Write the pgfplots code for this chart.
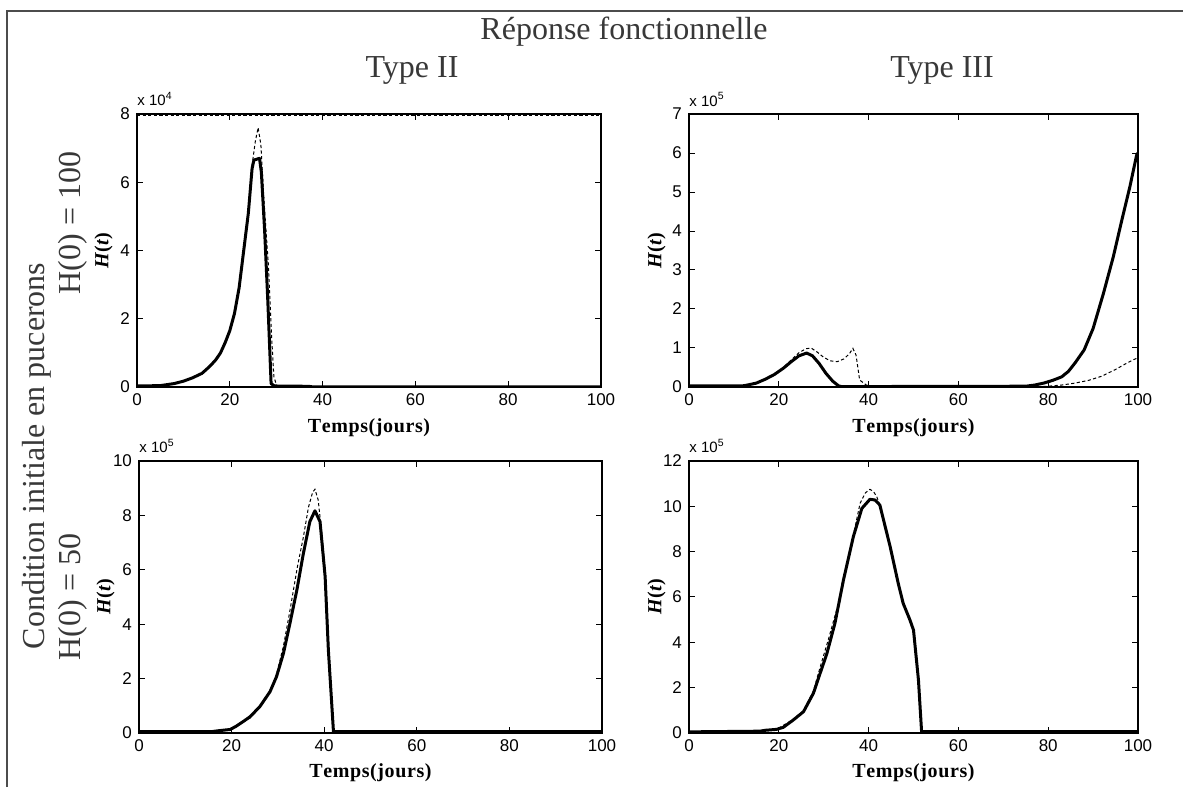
\documentclass[border=0pt]{standalone}
\usepackage{fontspec}
\setmainfont{Liberation Serif}
\newfontfamily\sansf{Liberation Sans}
\usepackage{pgfplots}
\pgfplotsset{compat=1.18}
\pgfplotsset{
  mystyle/.style={
    scale only axis,
    anchor=south west,
    clip mode=individual,
    xmin=0, xmax=100, xtick={0,20,40,60,80,100},
    axis line style={line width=0.6pt},
    tick style={line width=0.5pt, black},
    major tick length=3pt,
    tick align=inside,
    tick label style={font=\sansf\fontsize{8.5}{10}\selectfont},
    /pgf/number format/assume math mode=true,
    scaled ticks=false,
    xlabel={\fontsize{10}{12}\selectfont\bfseries T\kern0.3pt e\kern0.3pt m\kern0.3pt p\kern0.3pt s\kern0.3pt (\kern0.3pt j\kern0.3pt o\kern0.3pt u\kern0.3pt r\kern0.3pt s\kern0.3pt )},
    xlabel style={at={(axis description cs:0.5,-0.165)}, anchor=base},
    ylabel={\fontsize{10}{12}\selectfont\bfseries\itshape H\/\upshape(\itshape t\/\upshape)},
    ylabel style={at={(axis description cs:-0.072,0.5)}, anchor=center},
  },
  sol/.style={black, line width=1.5pt, line join=round},
  dsh/.style={black, line width=0.5pt, dash pattern=on 1.6pt off 1.2pt},
}
\begin{document}
\begin{tikzpicture}
\path[use as bounding box] (0,0) rectangle (591.5pt,393.5pt);
\draw[black!70, line width=0.8pt] (3.5pt,0) -- (3.5pt,388pt) -- (591.5pt,388pt);

\begin{scope}[font=\fontsize{16}{19}\selectfont, text=black!78]
\node[anchor=base] at (312pt,373.5pt) {Réponse fonctionnelle};
\node[anchor=base] at (206pt,354.5pt) {Type II};
\node[anchor=base] at (471pt,354.5pt) {Type III};
\node[anchor=base, rotate=90] at (22pt,165.5pt) {Condition initiale en pucerons};
\node[anchor=base, rotate=90] at (40pt,282pt) {H(0) = 100};
\node[anchor=base, rotate=90] at (40pt,95pt) {H(0) = 50};
\end{scope}

% Top-left: Type II, H(0)=100
\begin{axis}[mystyle, at={(68.5pt,200pt)}, width=232pt, height=136.5pt,
  ymin=0, ymax=8, ytick={0,2,4,6,8}]
\addplot[dsh] coordinates {(0,0.03) (5,0.04) (6,0.06) (8,0.1) (10,0.17) (12,0.27) (14,0.4) (15,0.52) (16,0.65) (17,0.8) (18,1.0) (19,1.3) (20,1.65) (21,2.15) (22,2.9) (23,4.0) (24,5.1) (24.8,6.5) (25.5,7.2) (26.1,7.6) (26.7,7.1) (27.3,5.6) (28.3,3.6) (29,1.5) (29.5,0.3) (30.2,0) (100,0)};
\addplot[dsh] coordinates {(0,7.97) (100,7.97)};
\addplot[sol] coordinates {(0,0.03) (5,0.04) (6,0.06) (8,0.1) (10,0.17) (12,0.27) (14,0.4) (15,0.52) (16,0.65) (17,0.8) (18,1.0) (19,1.3) (20,1.65) (21,2.15) (22,2.9) (23,4.0) (24,5.1) (24.8,6.4) (25.2,6.65) (26.4,6.7) (26.8,6.3) (27.5,4.6) (28.2,2.5) (28.9,0.1) (29.6,0.03) (37,0.02) (38,0) (100,0)};
\node[anchor=base west, font=\sansf\fontsize{7.5}{9}\selectfont, inner sep=0pt] at (rel axis cs:0,1) [yshift=4pt] {x 10\textsuperscript{4}};
\end{axis}

% Top-right: Type III, H(0)=100
\begin{axis}[mystyle, at={(344.5pt,200pt)}, width=224.5pt, height=136.5pt,
  ymin=0, ymax=7, ytick={0,1,2,3,4,5,6,7}]
\addplot[dsh] coordinates {(0,0.02) (12,0.03) (15,0.1) (19,0.32) (21,0.5) (23,0.72) (24.5,0.88) (26,0.98) (27.2,1.0) (28.5,0.9) (30,0.76) (31.5,0.67) (33,0.65) (34.5,0.72) (35.7,0.85) (36.5,0.99) (37.2,0.82) (38,0.18) (39.5,0.05) (41,0.01) (77,0) (80,0.02) (83,0.05) (86,0.1) (89,0.17) (92,0.28) (95,0.45) (97,0.58) (99,0.7) (100,0.75)};
\addplot[sol] coordinates {(0,0.03) (12,0.03) (13,0.05) (15,0.1) (17,0.2) (19,0.32) (21,0.48) (23,0.67) (24.5,0.8) (26.2,0.87) (27.5,0.8) (29,0.6) (30.5,0.35) (32,0.15) (33.3,0.03) (34,0.01) (75,0.02) (77,0.05) (79,0.1) (81,0.17) (83,0.26) (84.5,0.4) (86,0.62) (88,0.95) (90,1.5) (92.3,2.4) (94.5,3.34) (96.4,4.28) (98.2,5.14) (99.7,5.95) (100,6.0)};
\node[anchor=base west, font=\sansf\fontsize{7.5}{9}\selectfont, inner sep=0pt] at (rel axis cs:0,1) [yshift=4pt] {x 10\textsuperscript{5}};
\end{axis}

% Bottom-left: Type II, H(0)=50
\begin{axis}[mystyle, at={(69.5pt,27pt)}, width=231.5pt, height=136pt,
  ymin=0, ymax=10, ytick={0,2,4,6,8,10}]
\addplot[dsh] coordinates {(0,0.05) (15.7,0.05) (19.7,0.13) (21.8,0.36) (24,0.55) (26.1,0.97) (28.3,1.55) (29.7,2.15) (31.2,3.2) (32.6,4.5) (34.2,6.1) (35.5,7.2) (36.6,8.3) (37.5,8.85) (38,8.96) (38.7,8.57) (39.5,7.3) (40.3,5.8) (41,3.1) (42,0.05) (100,0)};
\addplot[sol] coordinates {(0,0.05) (15.7,0.05) (17,0.08) (19.7,0.13) (21,0.25) (22.5,0.42) (24,0.6) (26.1,0.97) (28.3,1.52) (29.7,2.07) (31.2,2.93) (32.6,4.03) (34.1,5.26) (35.5,6.6) (36.9,7.77) (38,8.17) (39.1,7.77) (40.2,5.75) (40.9,3.05) (42,0.05) (100,0.05)};
\node[anchor=base west, font=\sansf\fontsize{7.5}{9}\selectfont, inner sep=0pt] at (rel axis cs:0,1) [yshift=4pt] {x 10\textsuperscript{5}};
\end{axis}

% Bottom-right: Type III, H(0)=50
\begin{axis}[mystyle, at={(344.5pt,27pt)}, width=224.5pt, height=136pt,
  ymin=0, ymax=12, ytick={0,2,4,6,8,10,12}]
\addplot[dsh] coordinates {(0,0.05) (15.8,0.08) (19.5,0.16) (23.2,0.6) (25.5,0.98) (27.7,1.85) (29.2,2.9) (31,4.1) (33.6,5.94) (35.9,8.07) (38.1,10.13) (39.3,10.6) (40.3,10.75) (41.1,10.65) (41.8,10.43) (42.5,10.06) (44.8,8.22) (46.6,6.6) (47.7,5.72) (49.2,4.99) (50,4.54) (51.1,2.34) (51.8,0.06) (100,0)};
\addplot[sol] coordinates {(0,0.05) (15.8,0.08) (17,0.12) (19.5,0.16) (21,0.25) (23.2,0.57) (25.5,0.94) (27.7,1.75) (29.2,2.63) (30.7,3.5) (32.5,4.84) (34.4,6.75) (36.6,8.66) (38.5,9.91) (40.3,10.31) (41.4,10.28) (42.5,10.06) (44.8,8.22) (46.6,6.6) (47.7,5.72) (49.2,4.99) (50,4.54) (51.1,2.34) (51.8,0.06) (100,0.06)};
\node[anchor=base west, font=\sansf\fontsize{7.5}{9}\selectfont, inner sep=0pt] at (rel axis cs:0,1) [yshift=4pt] {x 10\textsuperscript{5}};
\end{axis}
\end{tikzpicture}
\end{document}
